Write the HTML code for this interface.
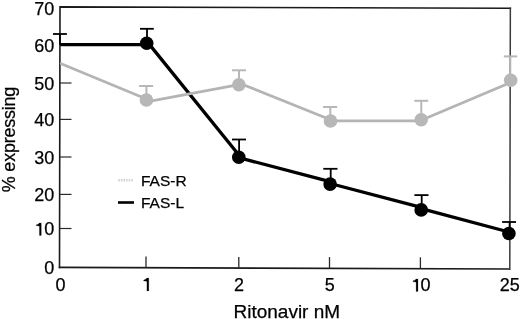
<!DOCTYPE html>
<html><head><meta charset="utf-8">
<style>
html,body{margin:0;padding:0;background:#fff;}
body{width:520px;height:319px;overflow:hidden;}
svg{display:block;will-change:transform;}
text{font-family:"Liberation Sans",sans-serif;fill:#000;stroke:#000;stroke-width:0.25px;}
</style></head>
<body>
<svg width="520" height="319" viewBox="0 0 520 319">

<g fill="none" stroke="#1a1a1a" stroke-linecap="square">
<polyline points="59.5,267.4 60,6.9 510.35,8.3" stroke-width="1.6"/>
<line x1="510.35" y1="8.3" x2="509.8" y2="269" stroke="#3a3a3a" stroke-width="1.5"/>
<line x1="59.6" y1="267.4" x2="509.6" y2="269" stroke-width="1.7"/>
</g>
<g stroke="#2a2a2a" stroke-width="1.2">
<line x1="60" y1="83" x2="71.5" y2="83"/>
<line x1="60" y1="119.4" x2="71.5" y2="119.4"/>
<line x1="60" y1="157" x2="71.5" y2="157"/>
<line x1="60" y1="194.4" x2="71.5" y2="194.4"/>
<line x1="60" y1="228.5" x2="71.5" y2="228.5"/>
</g>
<g stroke="#2a2a2a" stroke-width="1.3">
<line x1="146" y1="256.6" x2="146" y2="267.7"/>
<line x1="238.8" y1="257.1" x2="238.8" y2="268.0"/>
<line x1="329.5" y1="257.1" x2="329.5" y2="268.4"/>
<line x1="420.4" y1="257.3" x2="420.4" y2="268.7"/>
</g>
<g font-size="18" text-anchor="end">
<text x="54.3" y="14.9">70</text>
<text x="54.3" y="51.7">60</text>
<text x="54.3" y="90.4">50</text>
<text x="54.3" y="126.4">40</text>
<text x="54.3" y="163.7">30</text>
<text x="54.3" y="200.8">20</text>
<text x="54.3" y="235.4">0</text>
<text x="54.3" y="273.7">0</text>
</g>
<g font-size="18" text-anchor="middle">
<text x="60.5" y="291">0</text>
<text x="238.9" y="291">2</text>
<text x="329.7" y="291">5</text>
<text x="509.7" y="291">25</text>
</g>
<text x="430.4" y="291.3" font-size="18" text-anchor="end">0</text>
<g fill="#000" stroke="#000" stroke-width="0.2">
<path d="M41.28,222.90 L41.28,235.40 L39.42,235.40 L39.42,226.22 C38.55,225.93 37.37,225.83 36.30,225.83 L36.30,224.71 C37.57,224.56 38.74,223.88 39.23,222.90 Z"/>
<path d="M148.80,278.10 L148.80,290.90 L146.90,290.90 L146.90,281.50 C146.00,281.20 144.80,281.10 143.70,281.10 L143.70,279.95 C145.00,279.80 146.20,279.10 146.70,278.10 Z"/>
<path d="M417.98,278.90 L417.98,291.40 L416.12,291.40 L416.12,282.22 C415.25,281.93 414.07,281.83 413.00,281.83 L413.00,280.71 C414.27,280.56 415.44,279.88 415.93,278.90 Z"/>
</g>
<text x="286.8" y="317.5" font-size="19" text-anchor="middle">Ritonavir nM</text>
<text transform="translate(15.3,139.6) rotate(-90)" font-size="18" letter-spacing="-0.25" text-anchor="middle">% expressing</text>
<line x1="118.3" y1="180.2" x2="133.5" y2="180.2" stroke="#d0d0d0" stroke-width="2.4" stroke-dasharray="1.5 1.1"/>
<line x1="118" y1="202.5" x2="134" y2="202.5" stroke="#000" stroke-width="2.6"/>
<g font-size="15.5"><text x="141" y="186">FAS-R</text><text x="141" y="208.2">FAS-L</text></g>
<g stroke="#000" fill="none">
<path stroke-width="3.3" stroke-linecap="round" d="M61.40 44.60L146.70 44.60 M149.55 44.60L240.65 157.20 M238.80 157.66L330.10 181.63 M330.10 183.50L421.20 207.41 M421.20 208.66L508.90 231.99"/>
<g stroke-width="1.8">
<line x1="59.9" y1="44.6" x2="59.9" y2="34.0"/><line x1="53" y1="34.0" x2="66.9" y2="34.0"/>
<line x1="147" y1="43.3" x2="147" y2="28.8"/><line x1="140" y1="28.8" x2="153.8" y2="28.8"/>
<line x1="239.1" y1="157.2" x2="239.1" y2="139.5"/><line x1="232" y1="139.5" x2="246" y2="139.5"/>
<line x1="330.7" y1="184.1" x2="330.7" y2="168.8"/><line x1="323.3" y1="168.8" x2="337.5" y2="168.8"/>
<line x1="421.7" y1="209.9" x2="421.7" y2="195.1"/><line x1="414.4" y1="195.1" x2="428.5" y2="195.1"/>
<line x1="509.6" y1="233.5" x2="509.6" y2="222"/><line x1="502.1" y1="222" x2="516" y2="222"/>
</g></g>
<g fill="#000">
<circle cx="146.7" cy="43.3" r="6.8"/>
<circle cx="238.8" cy="157.2" r="6.8"/>
<circle cx="330.1" cy="184.1" r="6.8"/>
<circle cx="421.2" cy="209.9" r="6.8"/>
<circle cx="508.9" cy="233.5" r="6.8"/>
</g>
<g stroke="#b7b7b7" fill="none">
<path stroke="#b4b4b4" stroke-width="2.7" stroke-linecap="round" d="M61.20 63.70L146.40 98.97 M146.40 101.90L238.90 84.69 M238.90 82.93L330.50 119.84 M330.50 120.80L421.20 120.80 M421.20 120.32L510.70 82.46"/>
<g stroke-width="2">
<line x1="146.4" y1="100" x2="146.4" y2="86"/><line x1="139.1" y1="86" x2="153.2" y2="86"/>
<line x1="239" y1="84.7" x2="239" y2="70.3"/><line x1="232" y1="70.3" x2="246" y2="70.3"/>
<line x1="330.3" y1="121" x2="330.3" y2="107"/><line x1="323.1" y1="107" x2="337.2" y2="107"/>
<line x1="421.3" y1="119.7" x2="421.3" y2="100.8"/><line x1="414.3" y1="100.8" x2="428.2" y2="100.8"/>
<line x1="510.3" y1="80.3" x2="510.3" y2="56.4"/><line x1="503.8" y1="56.4" x2="517.2" y2="56.4"/>
</g></g>
<g fill="#b7b7b7">
<circle cx="146.4" cy="100" r="6.8"/>
<circle cx="238.9" cy="84.7" r="6.8"/>
<circle cx="330.5" cy="121" r="6.8"/>
<circle cx="421.2" cy="119.7" r="6.8"/>
<circle cx="510.7" cy="80.3" r="6.8"/>
</g>
</svg>
</body></html>
